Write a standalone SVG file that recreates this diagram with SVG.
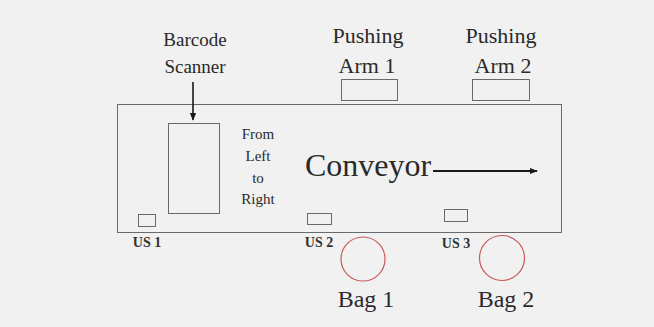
<svg xmlns="http://www.w3.org/2000/svg" width="654" height="327" viewBox="0 0 654 327">
<style>
  text { font-family: "Liberation Serif", "Times New Roman", Times, "DejaVu Serif", serif; fill: #2a2a2a; text-anchor: middle; }
  .box { fill: none; stroke: #6a6a6a; stroke-width: 1; }
  .bag { fill: none; stroke: #c85a5a; stroke-width: 1.2; }
  .lbl { font-size: 19px; }
  .arm { font-size: 22px; }
  .small { font-size: 15px; }
  .us { font-size: 14px; font-weight: bold; fill: #333; }
  .big { font-size: 32px; }
  .bagt { font-size: 24px; }
  .arrow { stroke: #1a1a1a; fill: none; }
</style>
<defs>
  <marker id="ah" viewBox="0 0 10 10" refX="9" refY="5" markerWidth="5" markerHeight="5" orient="auto" markerUnits="strokeWidth">
    <path d="M0,1 L10,5 L0,9 z" fill="#1a1a1a"/>
  </marker>
  <marker id="ah2" viewBox="0 0 10 10" refX="9" refY="5" markerWidth="4" markerHeight="4" orient="auto" markerUnits="strokeWidth">
    <path d="M0,1 L10,5 L0,9 z" fill="#1a1a1a"/>
  </marker>
</defs>
<rect width="654" height="327" fill="#f1f1f1"/>

<g id="conveyor">
  <rect class="box" x="117.5" y="104.5" width="444" height="128"/>
  <text class="big" x="368" y="176">Conveyor</text>
</g>

<g id="direction">
  <text class="small" x="258" y="139">From</text>
  <text class="small" x="258" y="161">Left</text>
  <text class="small" x="258" y="183">to</text>
  <text class="small" x="258" y="204">Right</text>
</g>

<g id="scanner">
  <rect class="box" x="168.5" y="123.5" width="51" height="90"/>
  <text class="lbl" x="195" y="46">Barcode</text>
  <text class="lbl" x="195" y="73">Scanner</text>
</g>

<g id="arm1">
  <rect class="box" x="341.5" y="79.5" width="56" height="21"/>
  <text class="arm" x="368" y="43">Pushing</text>
  <text class="arm" x="367" y="73">Arm 1</text>
</g>

<g id="arm2">
  <rect class="box" x="472.5" y="79.5" width="57" height="21"/>
  <text class="arm" x="501" y="43">Pushing</text>
  <text class="arm" x="503" y="73">Arm 2</text>
</g>

<g id="us1">
  <rect class="box" x="138.5" y="214.5" width="17" height="12"/>
  <text class="us" x="147" y="247">US 1</text>
</g>
<g id="us2">
  <rect class="box" x="307.5" y="213.5" width="24" height="11"/>
  <text class="us" x="319" y="247">US 2</text>
</g>
<g id="us3">
  <rect class="box" x="444.5" y="209.5" width="23" height="12"/>
  <text class="us" x="456" y="248">US 3</text>
</g>

<g id="bag1">
  <circle class="bag" cx="363" cy="259" r="22"/>
  <text class="bagt" x="366" y="307">Bag 1</text>
</g>
<g id="bag2">
  <circle class="bag" cx="502" cy="258" r="22.5"/>
  <text class="bagt" x="506" y="307">Bag 2</text>
</g>

<g id="connectors">
  <line class="arrow" x1="193" y1="82" x2="193" y2="120" stroke-width="1.6" marker-end="url(#ah)"/>
  <line class="arrow" x1="433" y1="171" x2="537" y2="171" stroke-width="2" marker-end="url(#ah2)"/>
</g>
</svg>
